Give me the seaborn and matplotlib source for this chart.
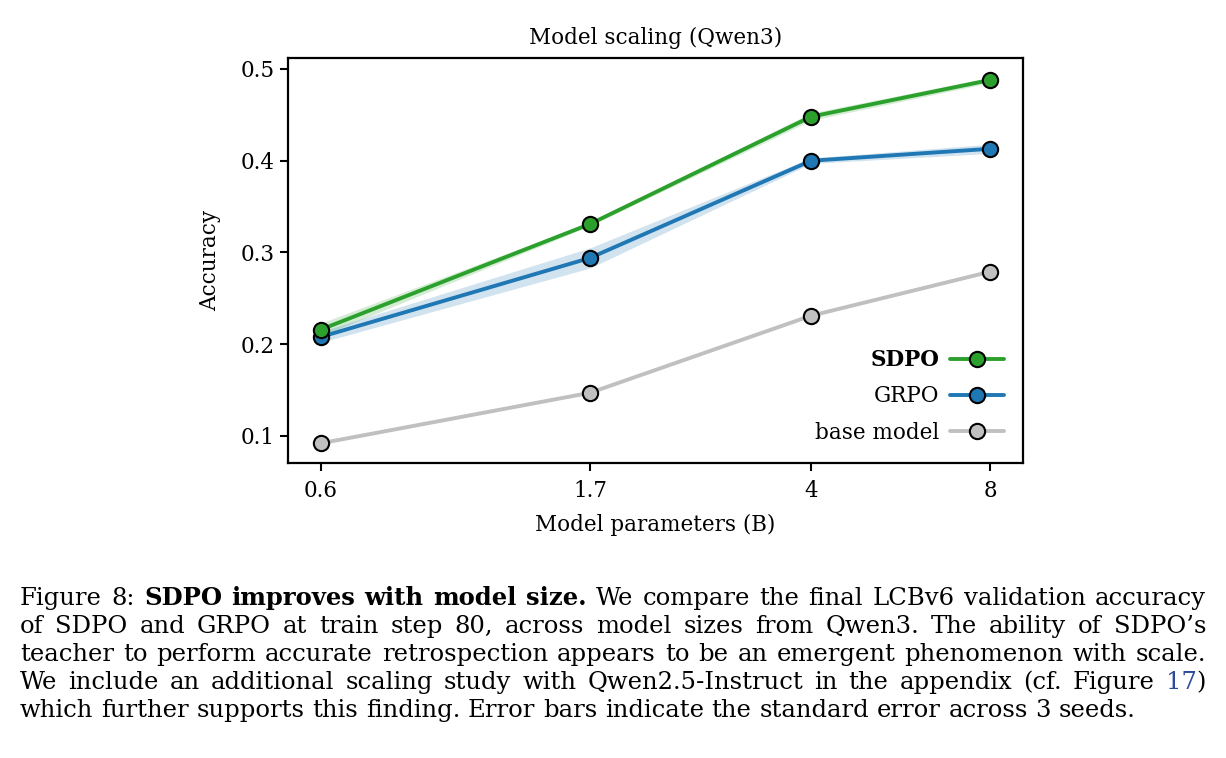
#!/usr/bin/env python3

import numpy as np
import pandas
import seaborn as sns
import matplotlib.pyplot as plt
from matplotlib.ticker import FixedLocator, FixedFormatter, NullLocator

# Model sizes (B params) and final accuracy at train step 80
sizes = [0.6, 1.7, 4, 8]
size_labels = ["0.6", "1.7", "4", "8"]
methods = ["SDPO", "GRPO", "base model"]
sdpo_acc = [0.216, 0.331, 0.448, 0.488]
sdpo_sem = [0.007, 0.002, 0.004, 0.003]
grpo_acc = [0.208, 0.294, 0.400, 0.413]
grpo_sem = [0.006, 0.011, 0.003, 0.005]
base_acc = [0.092, 0.147, 0.231, 0.279]

colors = {"SDPO": "#2ca02c", "GRPO": "#1f77b4", "base model": "#c0c0c0"}

sns.set_theme(style="ticks")
plt.rcParams["font.family"] = ["DejaVu Serif"]
plt.rcParams["text.color"] = "black"
plt.rcParams["axes.labelcolor"] = "black"
plt.rcParams["xtick.labelcolor"] = "black"
plt.rcParams["ytick.labelcolor"] = "black"

df = pandas.DataFrame({
    "size": sizes * 3,
    "acc": sdpo_acc + grpo_acc + base_acc,
    "method": [m for m in methods for _ in sizes],
})

fig = plt.figure(figsize=(12.26, 7.58), dpi=100)
ax = fig.add_axes([0.2349, 0.3892, 0.5995, 0.5343])

# shaded standard error bands
for acc, sem, name in [(sdpo_acc, sdpo_sem, "SDPO"), (grpo_acc, grpo_sem, "GRPO")]:
    lo = np.array(acc) - np.array(sem)
    hi = np.array(acc) + np.array(sem)
    ax.fill_between(sizes, lo, hi, color=colors[name], alpha=0.2, lw=0)

for name in methods[::-1]:
    sub = df[df["method"] == name]
    sns.lineplot(data=sub, x="size", y="acc", ax=ax, color=colors[name],
                 lw=2.8, marker="o", markersize=11, markeredgecolor="black",
                 markeredgewidth=1.5, label=name, zorder=3)

ax.set_xscale("log")
ax.xaxis.set_major_locator(FixedLocator(sizes))
ax.xaxis.set_major_formatter(FixedFormatter(size_labels))
ax.xaxis.set_minor_locator(NullLocator())
ax.set_yticks([0.1, 0.2, 0.3, 0.4, 0.5])
ax.set_yticklabels(["0.1", "0.2", "0.3", "0.4", "0.5"])
ax.set_ylim(0.0705, 0.512)
ax.set_xlim(0.528, 9.09)

fs = 15.5
ax.set_xlabel("Model parameters (B)", fontsize=fs, labelpad=9)
ax.set_ylabel("Accuracy", fontsize=fs, labelpad=14)
ax.set_title("Model scaling (Qwen3)", fontsize=fs, pad=10)
ax.tick_params(labelsize=fs, width=1.5, length=6, direction="out", color="black")
ax.tick_params(axis="x", pad=6)
for s in ax.spines.values():
    s.set_linewidth(1.6)
    s.set_color("black")
    s.set_visible(True)

handles, labels = ax.get_legend_handles_labels()
order = [labels.index(m) for m in methods]
leg = ax.legend([handles[i] for i in order], [labels[i] for i in order],
                loc="lower right", markerfirst=False, frameon=False,
                fontsize=fs, handlelength=2.5, handletextpad=0.5,
                labelspacing=0.66, borderaxespad=0.5)
leg.get_texts()[0].set_fontweight("bold")

# caption below the chart (justified like the paper)
caption = [
    [("Figure 8: ", "normal", "black"), ("SDPO improves with model size.", "bold", "black"),
     (" We compare the final LCBv6 validation accuracy", "normal", "black")],
    [("of SDPO and GRPO at train step 80, across model sizes from Qwen3. The ability of SDPO\u2019s", "normal", "black")],
    [("teacher to perform accurate retrospection appears to be an emergent phenomenon with scale.", "normal", "black")],
    [("We include an additional scaling study with Qwen2.5-Instruct in the appendix (cf. Figure ", "normal", "black"),
     ("17", "normal", "#2e4a9e"), (")", "normal", "black")],
    [("which further supports this finding. Error bars indicate the standard error across 3 seeds.", "normal", "black")],
]
cap_size = 17.5
fig.canvas.draw()
renderer = fig.canvas.get_renderer()


def split_words(parts):
    words = []
    joined = False
    for txt, weight, col in parts:
        chunks = txt.split(" ")
        for i, c in enumerate(chunks):
            if c == "":
                continue
            if i == 0 and words and joined:
                words[-1].append((c, weight, col))
            else:
                words.append([(c, weight, col)])
        joined = not txt.endswith(" ")
    return words


def seg_width(txt, weight):
    t = fig.text(0, 0, txt, fontsize=cap_size, fontweight=weight)
    w = t.get_window_extent(renderer).width
    t.remove()
    return w


space_w = seg_width("a a", "normal") - seg_width("aa", "normal")
x_left, x_right = 20, 1206
y0 = 758 - 605
for row, parts in enumerate(caption):
    words = split_words(parts)
    widths = [sum(seg_width(s, w) for s, w, _ in word) for word in words]
    natural = sum(widths) + space_w * (len(words) - 1)
    gap = space_w
    if row < len(caption) - 1:
        gap = space_w + (x_right - x_left - natural) / (len(words) - 1)
    x = x_left
    y = y0 - row * 28
    for word in words:
        for s, weight, col in word:
            t = fig.text(x / 1226, y / 758, s, fontsize=cap_size, fontweight=weight,
                         color=col, ha="left", va="baseline")
            x = t.get_window_extent(renderer).x1
        x += gap

fig.savefig("out.png", dpi=100)
